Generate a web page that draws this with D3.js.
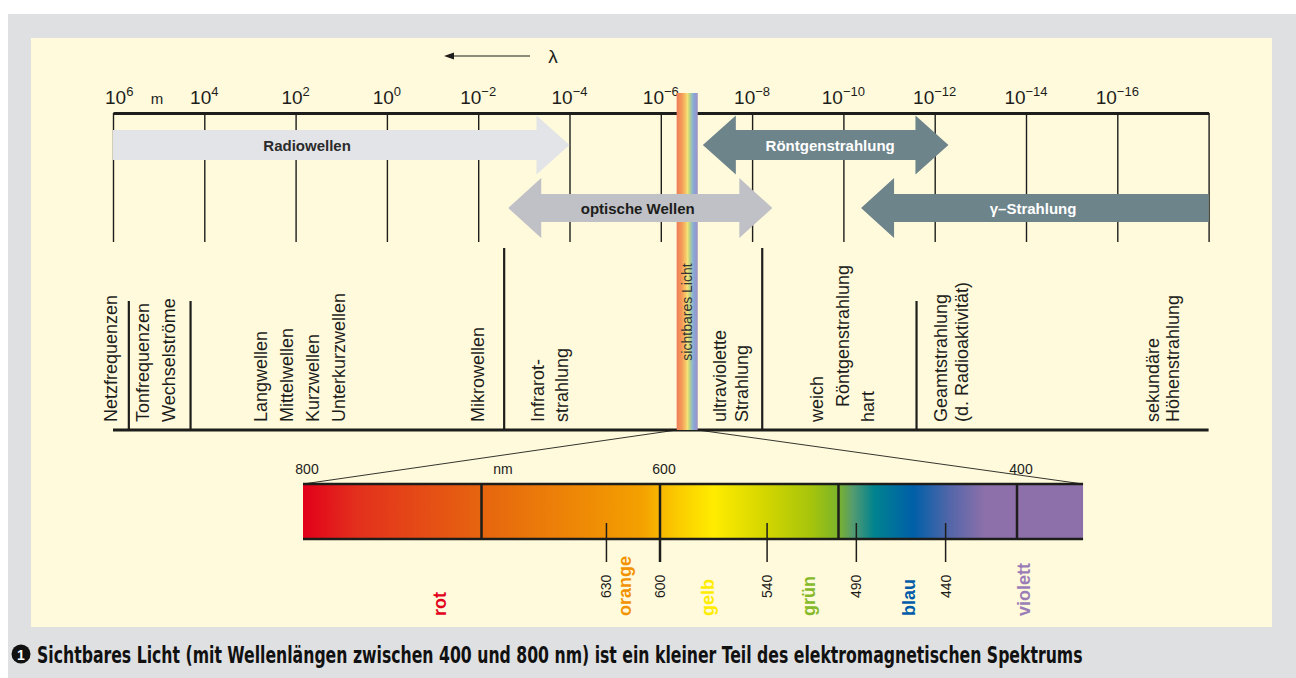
<!DOCTYPE html>
<html lang="de">
<head>
<meta charset="UTF-8" />
<title>Elektromagnetisches Spektrum</title>
<style>
  body { margin: 0; background: #fff; }
  svg { display: block; font-family: "Liberation Sans", Arial, Helvetica, sans-serif; }
</style>
</head>
<body>
<div id="container"></div>
<script src="https://cdnjs.cloudflare.com/ajax/libs/d3/7.8.5/d3.min.js"></script>
<script>
// Wellenlängen-Achse (Zehnerpotenzen in Meter)
const tickExps = [6, 4, 2, 0, -2, -4, -6, -8, -10, -12, -14, -16, -18]
const labelExps = [6, 4, 2, 0, -2, -4, -6, -8, -10, -12, -14, -16]

// Bänder (Pfeile), Bereich in Meter
const bandNames = ["Radiowellen", "optische Wellen", "Röntgenstrahlung", "γ–Strahlung"]
const bandFrom = [1e6, 2.2e-3, 1.2e-7, 4.1e-11]
const bandTo = [1e-4, 3.6e-9, 5e-13, 1e-18]
const bandLabelAt = [56, 3.2e-6, 1.95e-10, 7e-15]
const bandRow = [0, 1, 0, 1]
const bandHeads = ["right", "both", "both", "left"]

// sichtbares Licht auf der Meter-Achse
const visibleRange = [4.5e-7, 1.55e-7]

// Trennlinien im unteren Teil (Meter), lang oder kurz
const separators = [4.5e5, 2.0e4, 2.7e-3, 6e-9, 2.5e-12]
const separatorTall = [false, false, true, true, false]

// Bezeichnungen (Meter-Position)
const regionTexts = ["Netzfrequenzen", "Tonfrequenzen", "Wechselströme", "Langwellen", "Mittelwellen",
  "Kurzwellen", "Unterkurzwellen", "Mikrowellen", "Infrarot-", "strahlung", "ultraviolette", "Strahlung",
  "weich", "Röntgenstrahlung", "hart", "Geamtstrahlung", "(d. Radioaktivität)", "sekundäre", "Höhenstrahlung"]
const regionAt = [1.05e6, 2.1e5, 5.9e4, 550, 148, 40, 11, 1e-2, 4.7e-4, 1.45e-4, 5e-8, 1.6e-8,
  3.6e-10, 9.8e-11, 2.75e-11, 7.2e-13, 2.4e-13, 1.6e-17, 5.75e-18]

// Spektrum in nm
const nmEnd = 363
const nmTopLabels = [800, 600, 400]
const nmDividers = [700, 600, 500, 400]
const nmTicks = [630, 600, 540, 490, 440]
const spectrumNm = [800, 770, 700, 640, 610, 590, 570, 540, 515, 500, 492, 480, 458, 438, 418, 363]
const spectrumColors = ["#e2001a", "#e3301d", "#e6650f", "#ef8c05", "#f4a100", "#fbcb00", "#ffec00", "#d2d500",
  "#a6c40c", "#7ab32a", "#559b70", "#00838f", "#005fa8", "#5266a9", "#8d70aa", "#8d70aa"]
const colorNames = ["rot", "orange", "gelb", "grün", "blau", "violett"]
const colorNameAt = [723, 619, 573, 516, 460, 395.5]
const colorNameFill = ["#e2001a", "#f39200", "#ffed00", "#85b929", "#005ca9", "#9a7db7"]

const W = 1296, H = 678
const ink = "#1d1d1b"
const svg = d3.select("#container").append("svg").attr("width", W).attr("height", H)
const defs = svg.append("defs")

// Hintergrund
svg.append("rect").attr("x", 8).attr("y", 14).attr("width", W - 8).attr("height", H - 14).attr("fill", "#dfe0e2")
svg.append("rect").attr("x", 31).attr("y", 38).attr("width", 1241).attr("height", 589).attr("fill", "#fffadb")

const x = d3.scaleLog().domain([1e6, 1e-18]).range([113, 1208.6])
const axisY = 113, baseY = 430

// Achse oben mit Strichen nach unten
const axis = svg.append("g").attr("transform", `translate(0,${axisY})`)
  .call(d3.axisTop(x).tickValues(tickExps.map(e => Math.pow(10, e))).tickSize(-129).tickSizeOuter(0).tickFormat(""))
axis.select(".domain").attr("stroke", ink).attr("stroke-width", 3)
axis.selectAll(".tick line").attr("stroke", ink).attr("stroke-width", 1.4)

// Beschriftung 10^n
const lab = svg.append("g").selectAll("text").data(labelExps).join("text")
  .attr("x", (d, i) => i === 0 ? x(Math.pow(10, d)) - 8 : x(Math.pow(10, d)))
  .attr("y", 104)
  .attr("text-anchor", (d, i) => i === 0 ? "start" : "middle")
  .attr("font-size", 19).attr("fill", ink)
lab.append("tspan").text("10")
lab.append("tspan").attr("dy", -8).attr("font-size", 13).text(d => String(d).replace("-", "−"))
svg.append("text").attr("x", 157).attr("y", 104).attr("font-size", 15).attr("text-anchor", "middle").attr("fill", ink).text("m")

// Lambda-Pfeil
svg.append("line").attr("x1", 452).attr("x2", 530).attr("y1", 56).attr("y2", 56).attr("stroke", ink).attr("stroke-width", 1.2)
svg.append("path").attr("d", "M444,56 L454,52.5 L454,59.5 Z").attr("fill", ink)
svg.append("text").attr("x", 553).attr("y", 63).attr("font-size", 19).attr("text-anchor", "middle").attr("fill", ink).text("λ")

// Grundlinie und Trennlinien unten
svg.append("line").attr("x1", x(1e6)).attr("x2", x(1e-18)).attr("y1", baseY).attr("y2", baseY).attr("stroke", ink).attr("stroke-width", 3)
svg.append("g").selectAll("line").data(separators).join("line")
  .attr("x1", d => x(d)).attr("x2", d => x(d))
  .attr("y1", (d, i) => separatorTall[i] ? 248 : 301).attr("y2", baseY)
  .attr("stroke", ink).attr("stroke-width", 2.2)

svg.append("g").selectAll("text").data(regionTexts).join("text")
  .attr("transform", (d, i) => `translate(${x(regionAt[i])},${d === "Röntgenstrahlung" ? 407 : 422}) rotate(-90)`)
  .attr("dy", "0.3em").attr("font-size", 18).attr("fill", ink).text(d => d)

// Streifen sichtbares Licht
const vis = defs.append("linearGradient").attr("id", "vis").attr("x1", 0).attr("x2", 1).attr("y1", 0).attr("y2", 0)
const visStops = [[0, "#ee7d58"], [0.25, "#f49a58"], [0.42, "#f7c565"], [0.52, "#f2e27a"], [0.62, "#b8d283"], [0.75, "#8fb6cf"], [0.86, "#8b9fd6"], [1, "#a593c2"]]
vis.selectAll("stop").data(visStops).join("stop").attr("offset", d => d[0]).attr("stop-color", d => d[1])
const vx0 = x(visibleRange[0]), vx1 = x(visibleRange[1])
svg.append("rect").attr("x", vx0).attr("y", 93).attr("width", vx1 - vx0).attr("height", baseY - 93).attr("fill", "url(#vis)")
svg.append("text").attr("transform", `translate(${(vx0 + vx1) / 2},312) rotate(-90)`)
  .attr("dy", "0.35em").attr("text-anchor", "middle").attr("font-size", 14).attr("fill", "#333").text("sichtbares Licht")

// Pfeile der Bänder (über dem Lichtstreifen)
const rows = [{ cy: 145, bh: 15, hh: 29.5 }, { cy: 208, bh: 14, hh: 30 }]
const hl = 33
function arrowPts(x0, x1, r, heads) {
  const L = heads === "left" || heads === "both", R = heads === "right" || heads === "both"
  const p = []
  if (L) p.push([x0, r.cy], [x0 + hl, r.cy - r.hh], [x0 + hl, r.cy - r.bh])
  else p.push([x0, r.cy - r.bh])
  if (R) p.push([x1 - hl, r.cy - r.bh], [x1 - hl, r.cy - r.hh], [x1, r.cy], [x1 - hl, r.cy + r.hh], [x1 - hl, r.cy + r.bh])
  else p.push([x1, r.cy - r.bh], [x1, r.cy + r.bh])
  if (L) p.push([x0 + hl, r.cy + r.bh], [x0 + hl, r.cy + r.hh])
  else p.push([x0, r.cy + r.bh])
  return p
}
const bandFill = ["#e3e4e8", "#bfc1c6", "#6d848b", "#6d848b"]
const bandText = ["#2b2b2b", "#1d1d1b", "#ffffff", "#ffffff"]
const line = d3.line().curve(d3.curveLinearClosed)
const bands = svg.append("g").selectAll("g").data(bandNames).join("g")
bands.append("path")
  .attr("d", (d, i) => line(arrowPts(x(bandFrom[i]), x(bandTo[i]), rows[bandRow[i]], bandHeads[i])))
  .attr("fill", (d, i) => bandFill[i])
bands.append("text")
  .attr("x", (d, i) => x(bandLabelAt[i]))
  .attr("y", (d, i) => rows[bandRow[i]].cy + 1)
  .attr("dy", "0.35em").attr("text-anchor", "middle")
  .attr("font-size", 15).attr("font-weight", "bold")
  .attr("fill", (d, i) => bandText[i]).text(d => d)

// Spektrum in nm
const xNm = d3.scaleLinear().domain([800, 400]).range([303, 1017])
const barTop = 484, barBot = 539
const spec = defs.append("linearGradient").attr("id", "spec").attr("gradientUnits", "userSpaceOnUse")
  .attr("x1", xNm(800)).attr("x2", xNm(nmEnd)).attr("y1", 0).attr("y2", 0)
spec.selectAll("stop").data(spectrumNm).join("stop")
  .attr("offset", d => (xNm(d) - xNm(800)) / (xNm(nmEnd) - xNm(800)))
  .attr("stop-color", (d, i) => spectrumColors[i])
svg.append("rect").attr("x", xNm(800)).attr("y", barTop).attr("width", xNm(nmEnd) - xNm(800)).attr("height", barBot - barTop).attr("fill", "url(#spec)")

// Verbindungslinien
svg.append("line").attr("x1", vx0).attr("y1", baseY).attr("x2", xNm(800)).attr("y2", barTop).attr("stroke", ink).attr("stroke-width", 0.9)
svg.append("line").attr("x1", vx1).attr("y1", baseY).attr("x2", xNm(nmEnd)).attr("y2", barTop).attr("stroke", ink).attr("stroke-width", 0.9)

for (const yy of [barTop, barBot]) {
  svg.append("line").attr("x1", xNm(800)).attr("x2", xNm(nmEnd)).attr("y1", yy).attr("y2", yy).attr("stroke", ink).attr("stroke-width", 2.5)
}
svg.append("g").selectAll("line").data(nmDividers).join("line")
  .attr("x1", d => xNm(d)).attr("x2", d => xNm(d))
  .attr("y1", barTop).attr("y2", d => d === 600 ? 562 : barBot)
  .attr("stroke", ink).attr("stroke-width", 2.5)
svg.append("g").selectAll("line").data(nmTicks.filter(d => d !== 600)).join("line")
  .attr("x1", d => xNm(d)).attr("x2", d => xNm(d)).attr("y1", 523).attr("y2", 562)
  .attr("stroke", ink).attr("stroke-width", 1.5)

svg.append("g").selectAll("text").data(nmTopLabels).join("text")
  .attr("x", d => xNm(d) + 4).attr("y", 474).attr("text-anchor", "middle")
  .attr("font-size", 14).attr("fill", ink).text(d => d)
svg.append("text").attr("x", xNm(688)).attr("y", 474).attr("text-anchor", "middle").attr("font-size", 14).attr("fill", ink).text("nm")

svg.append("g").selectAll("text").data(nmTicks).join("text")
  .attr("transform", d => `translate(${xNm(d)},598) rotate(-90)`)
  .attr("dy", "0.35em").attr("font-size", 14).attr("fill", ink).text(d => d)

svg.append("g").selectAll("text").data(colorNames).join("text")
  .attr("transform", (d, i) => `translate(${xNm(colorNameAt[i])},616) rotate(-90)`)
  .attr("dy", "0.3em").attr("font-size", 18).attr("font-weight", "bold")
  .attr("fill", (d, i) => colorNameFill[i]).text(d => d)

// Bildunterschrift (schmal gezogen wie eine Condensed-Schrift)
svg.append("circle").attr("cx", 21).attr("cy", 654).attr("r", 9.5).attr("fill", "#111")
svg.append("text").attr("x", 21).attr("y", 659.5).attr("text-anchor", "middle").attr("font-size", 14)
  .attr("font-weight", "bold").attr("fill", "#fff").text("1")
const caption = svg.append("text").attr("x", 0).attr("y", 0)
  .attr("font-family", "'Liberation Sans Narrow', 'DejaVu Sans Condensed', 'Liberation Sans', sans-serif")
  .attr("font-size", 23).attr("font-weight", "bold").attr("fill", "#111")
  .text("Sichtbares Licht (mit Wellenlängen zwischen 400 und 800 nm) ist ein kleiner Teil des elektromagnetischen Spektrums")
const capW = caption.node().getComputedTextLength()
caption.attr("transform", `translate(37,663) scale(${1046 / capW},1)`)
</script>
</body>
</html>
